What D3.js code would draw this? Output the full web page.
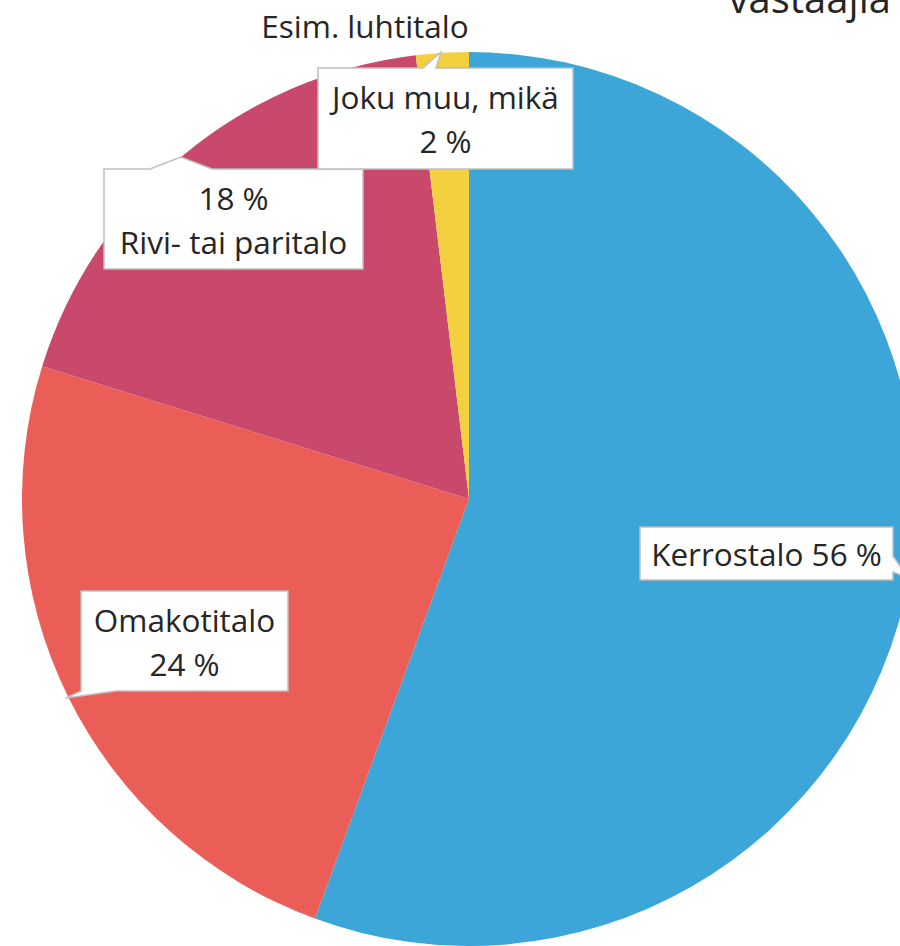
<!DOCTYPE html>
<html>
<head>
<meta charset="utf-8">
<script src="https://cdn.jsdelivr.net/npm/d3@7"></script>
<style>
  body { margin: 0; background: #fff; }
  svg { display: block; }
  text { font-family: "Open Sans", "Noto Sans", sans-serif; fill: #262626; }
</style>
</head>
<body>
<svg></svg>
<script>
var screen = {width: 900, height: 946}

// data
var categories = ["Kerrostalo", "Omakotitalo", "Rivi- tai paritalo", "Joku muu, mikä"]
var values = [55.6, 24.2, 18.3, 1.9]
var pctLabels = ["56 %", "24 %", "18 %", "2 %"]
var colors = ["#3ba6d7", "#eb5e57", "#c9496d", "#f3d03f"]

var svg = d3.select("svg")
    .attr("width", screen.width)
    .attr("height", screen.height)

var cx = 469, cy = 499, radius = 447

var pie = d3.pie().sort(null).value(function(d){ return d.value })
var arc = d3.arc().innerRadius(0).outerRadius(radius)

var rows = categories.map(function(c, i){
    return {name: c, value: values[i], pct: pctLabels[i], color: colors[i]}
})

var g = svg.append("g")
    .attr("transform", "translate(" + cx + "," + cy + ")")

g.selectAll("path")
    .data(pie(rows))
    .enter()
    .append("path")
    .attr("d", arc)
    .attr("fill", function(d){ return d.data.color })

// callout boxes (layout only)
var boxes = [
    {x: 640, y: 527, w: 253, h: 53, side: "right", p1: 556, p2: 572, tip: [908, 578],
     lines: function(r){ return [r.name + " " + r.pct] }},
    {x: 81, y: 591, w: 207, h: 100, side: "bottom", p1: 81, p2: 116, tip: [66, 698],
     lines: function(r){ return [r.name, r.pct] }},
    {x: 104, y: 169, w: 259, h: 100, side: "top", p1: 150, p2: 212, tip: [181, 157],
     lines: function(r){ return [r.pct, r.name] }},
    {x: 318, y: 68, w: 255, h: 101, side: "top", p1: 423, p2: 436, tip: [441, 52],
     lines: function(r){ return [r.name, r.pct] }}
]

var callout = function(b)
{
    var x0 = b.x, y0 = b.y, x1 = b.x + b.w, y1 = b.y + b.h
    var pts
    if (b.side == "top")
        pts = [[x0,y0],[b.p1,y0],b.tip,[b.p2,y0],[x1,y0],[x1,y1],[x0,y1]]
    else if (b.side == "right")
        pts = [[x0,y0],[x1,y0],[x1,b.p1],b.tip,[x1,b.p2],[x1,y1],[x0,y1]]
    else
        pts = [[x0,y0],[x1,y0],[x1,y1],[b.p2,y1],b.tip,[b.p1,y1],[x0,y1]]
    return "M" + pts.map(function(p){ return p.join(",") }).join("L") + "Z"
}

var labels = svg.append("g")
    .selectAll("g")
    .data(rows)
    .enter()
    .append("g")

labels.append("path")
    .attr("d", function(r, i){ return callout(boxes[i]) })
    .attr("fill", "#fff")
    .attr("stroke", "#bfbfbf")
    .attr("stroke-width", 1.5)

labels.each(function(r, i){
    var b = boxes[i]
    var lines = b.lines(r)
    var lh = 44
    var first = b.y + b.h / 2 - (lines.length - 1) * lh / 2 + 12.5
    d3.select(this).selectAll("text")
        .data(lines)
        .enter()
        .append("text")
        .attr("x", b.x + b.w / 2)
        .attr("y", function(t, j){ return first + j * lh })
        .attr("text-anchor", "middle")
        .attr("font-size", "31.5px")
        .text(function(t){ return t })
})

// cropped texts from the top of the original figure
svg.append("text")
    .attr("x", 365)
    .attr("y", 38)
    .attr("text-anchor", "middle")
    .attr("font-size", "31.5px")
    .text("Esim. luhtitalo")

svg.append("text")
    .attr("x", 891)
    .attr("y", 13)
    .attr("text-anchor", "end")
    .attr("font-size", "40px")
    .text("vastaajia")
</script>
</body>
</html>
